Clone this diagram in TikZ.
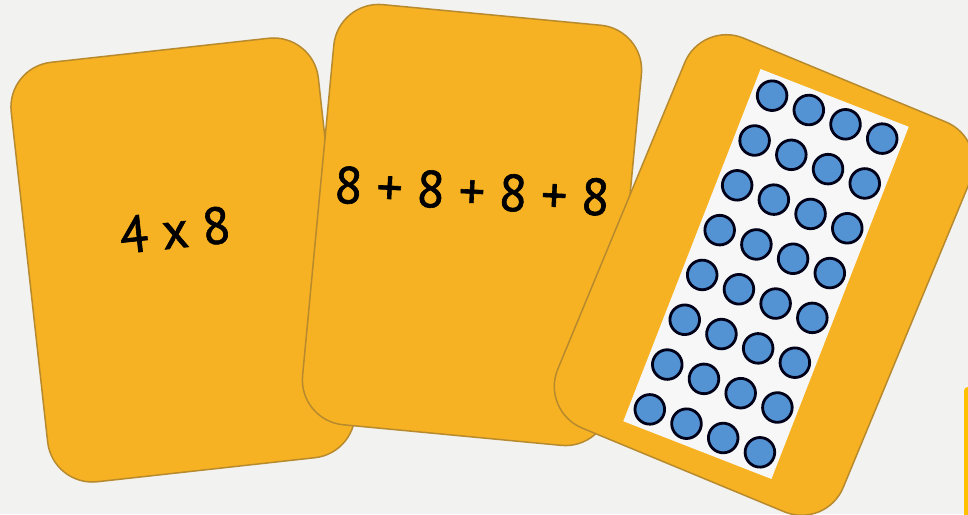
\documentclass[tikz,border=0pt]{standalone}
\usepackage{fontspec}
\setmainfont{PT Sans}[FakeBold=1.2]
\definecolor{bg}{HTML}{F2F2F0}
\definecolor{cardfill}{HTML}{F6B223}
\definecolor{cardedge}{HTML}{B88A2E}
\definecolor{dotblue}{HTML}{5393D3}
\definecolor{paper}{HTML}{F7F7F7}
\definecolor{yellowedge}{HTML}{FFC000}
\begin{document}
\begin{tikzpicture}[x=1pt,y=-1pt,
  card/.style={draw=cardedge, line width=1.5pt, fill=cardfill, rounded corners=45pt,
    minimum width=309pt, minimum height=422pt, inner sep=0pt},
  sumtext/.style={font=\fontsize{52}{52}\selectfont, inner sep=0pt, text=black},
  dotcircle/.style={draw=black!90!blue, line width=2.8pt, fill=dotblue}]
\useasboundingbox (0,0) rectangle (968,514);
\fill[bg] (0,0) rectangle (968,514);
\node[card, rotate=6.3] (c1) at (183,260) {};
\node[sumtext, rotate=6] (t1) at (175,230) {4 x 8};
\node[card, rotate=-5.4] (c2) at (472,225) {};
\node[sumtext, rotate=-2.7] (t2) at (472,191) {8 + 8 + 8 + 8};
\node[card, rotate=-22.5] (c3) at (764,275) {};
\begin{scope}[shift={(766,274)}, rotate=-21.3]
  \fill[paper] (-79.5,-189) rectangle (79.5,189);
  \foreach \r in {0,...,7} {
    \foreach \c in {0,...,3} {
      \draw[dotcircle] ({(\c-1.5)*39.4},{(\r-3.5)*48.1}) circle[radius=14.8pt];
    }
  }
\end{scope}
\node[fill=yellowedge, rounded corners=3pt, minimum width=11pt, minimum height=133pt,
  inner sep=0pt, anchor=north west] (c4) at (964,387) {};
\end{tikzpicture}
\end{document}
